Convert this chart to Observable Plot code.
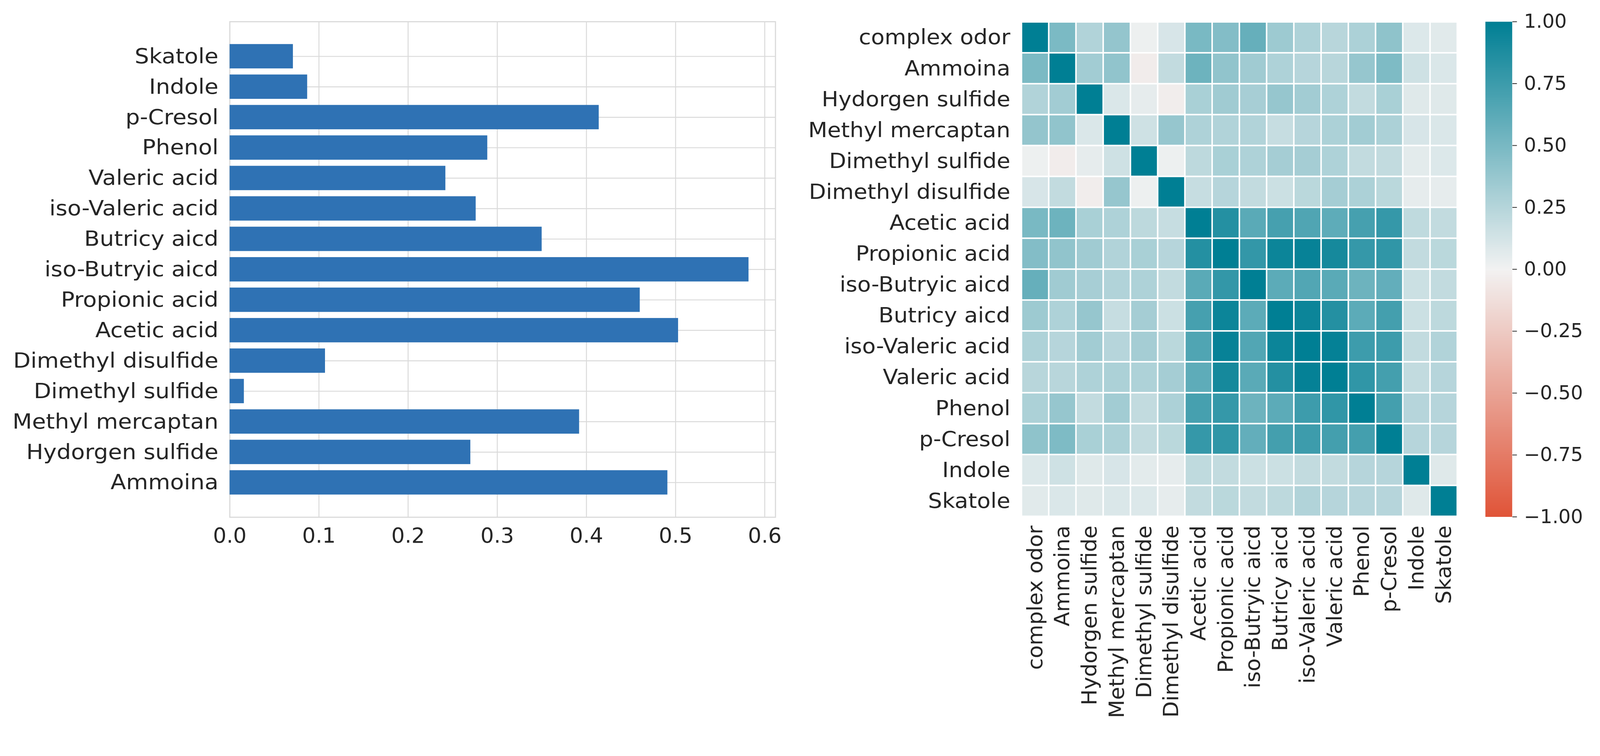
<!DOCTYPE html>
<html>
<head>
<meta charset="utf-8">
<script src="https://cdn.jsdelivr.net/npm/d3@7"></script>
<script src="https://cdn.jsdelivr.net/npm/@observablehq/plot@0.6"></script>
<style>
  html, body { margin: 0; padding: 0; background: #fff; overflow: hidden; }
  #wrap { position: absolute; left: 0; top: 0; width: 4237px; height: 1935px; background: #fff; transform-origin: 0 0; }
  #wrap svg { position: absolute; }
</style>
</head>
<body>
<div id="wrap"></div>
<script>
// ---------- Bar chart data (top to bottom) ----------
const barCategories = ["Skatole", "Indole", "p-Cresol", "Phenol", "Valeric acid", "iso-Valeric acid",
  "Butricy aicd", "iso-Butryic aicd", "Propionic acid", "Acetic acid", "Dimethyl disulfide",
  "Dimethyl sulfide", "Methyl mercaptan", "Hydorgen sulfide", "Ammoina"];
const barValues = [0.071, 0.087, 0.414, 0.289, 0.242, 0.276, 0.350, 0.582, 0.460, 0.503, 0.107, 0.016, 0.392, 0.270, 0.491];
const barTicks = [0, 0.1, 0.2, 0.3, 0.4, 0.5, 0.6];

// ---------- Heatmap data ----------
const heatVars = ["complex odor", "Ammoina", "Hydorgen sulfide", "Methyl mercaptan", "Dimethyl sulfide",
  "Dimethyl disulfide", "Acetic acid", "Propionic acid", "iso-Butryic aicd", "Butricy aicd",
  "iso-Valeric acid", "Valeric acid", "Phenol", "p-Cresol", "Indole", "Skatole"];
const corrRows = [
  [1.00, 0.49, 0.27, 0.39, 0.02, 0.11, 0.50, 0.46, 0.58, 0.35, 0.28, 0.24, 0.29, 0.41, 0.09, 0.07],
  [0.49, 1.00, 0.33, 0.40, -0.04, 0.20, 0.55, 0.40, 0.34, 0.28, 0.25, 0.24, 0.38, 0.48, 0.15, 0.10],
  [0.27, 0.33, 1.00, 0.10, 0.05, -0.03, 0.30, 0.34, 0.31, 0.38, 0.33, 0.28, 0.20, 0.30, 0.08, 0.08],
  [0.39, 0.40, 0.10, 1.00, 0.15, 0.38, 0.28, 0.27, 0.27, 0.18, 0.25, 0.29, 0.33, 0.29, 0.11, 0.10],
  [0.02, -0.04, 0.05, 0.15, 1.00, 0.02, 0.22, 0.30, 0.28, 0.32, 0.32, 0.28, 0.20, 0.20, 0.06, 0.09],
  [0.11, 0.20, -0.03, 0.38, 0.02, 1.00, 0.18, 0.25, 0.20, 0.16, 0.23, 0.32, 0.29, 0.23, 0.05, 0.05],
  [0.50, 0.55, 0.30, 0.28, 0.22, 0.18, 1.00, 0.85, 0.63, 0.71, 0.67, 0.61, 0.71, 0.78, 0.21, 0.20],
  [0.46, 0.40, 0.34, 0.27, 0.30, 0.25, 0.85, 1.00, 0.79, 0.95, 0.97, 0.91, 0.78, 0.80, 0.20, 0.23],
  [0.58, 0.34, 0.31, 0.27, 0.28, 0.20, 0.63, 0.79, 1.00, 0.62, 0.66, 0.63, 0.55, 0.59, 0.16, 0.20],
  [0.35, 0.28, 0.38, 0.18, 0.32, 0.16, 0.71, 0.95, 0.62, 1.00, 0.95, 0.85, 0.62, 0.72, 0.16, 0.22],
  [0.28, 0.25, 0.33, 0.25, 0.32, 0.23, 0.67, 0.97, 0.66, 0.95, 1.00, 0.98, 0.75, 0.75, 0.20, 0.27],
  [0.24, 0.24, 0.28, 0.29, 0.28, 0.32, 0.61, 0.91, 0.63, 0.85, 0.98, 1.00, 0.80, 0.72, 0.20, 0.25],
  [0.29, 0.38, 0.20, 0.33, 0.20, 0.29, 0.71, 0.78, 0.55, 0.62, 0.75, 0.80, 1.00, 0.72, 0.25, 0.25],
  [0.41, 0.48, 0.30, 0.29, 0.20, 0.23, 0.78, 0.80, 0.59, 0.72, 0.75, 0.72, 0.72, 1.00, 0.25, 0.25],
  [0.09, 0.15, 0.08, 0.11, 0.06, 0.05, 0.21, 0.20, 0.16, 0.16, 0.20, 0.20, 0.25, 0.25, 1.00, 0.08],
  [0.07, 0.10, 0.08, 0.10, 0.09, 0.05, 0.20, 0.23, 0.20, 0.22, 0.27, 0.25, 0.25, 0.25, 0.08, 1.00]
];
const colorbarTicks = [-1, -0.75, -0.5, -0.25, 0, 0.25, 0.5, 0.75, 1];

// ---------- shared styles ----------
const textColor = "#262626";
const gridColor = "#dadada";
const barColor = "#2f72b4";
const colorScale = {
  type: "linear",
  domain: [-1, 0, 1],
  range: ["#e05438", "#f2f2f2", "#007f94"],
  interpolate: "rgb",
  clamp: true
};
const baseStyle = {fontFamily: "'DejaVu Sans', sans-serif", fontSize: "56px", color: textColor, background: "transparent", overflow: "visible"};

const wrap = document.getElementById("wrap");
const fit = Math.min(window.innerWidth / 4237, window.innerHeight / 1935);
wrap.style.transform = `scale(${fit})`;

function place(svg, left, top) {
  svg.style.left = left + "px";
  svg.style.top = top + "px";
  svg.style.maxWidth = "none";
  wrap.appendChild(svg);
}
// widen horizontal y-axis labels slightly (the reference's labels are a little wider)
function widenYLabels(svg, k) {
  svg.querySelectorAll('g[aria-label="y-axis tick label"] text').forEach(t => {
    const tr = t.getAttribute("transform") || "";
    t.setAttribute("transform", tr + ` scale(${k},1)`);
  });
}

// ---------- Bar chart ----------
const barData = barCategories.map((name, i) => ({name, value: barValues[i]}));
const barChart = Plot.plot({
  width: 2200, height: 1935,
  marginLeft: 608, marginRight: 147, marginTop: 57, marginBottom: 566,
  style: baseStyle,
  x: {domain: [0, 0.612]},
  y: {domain: barCategories, paddingInner: 0.2, paddingOuter: 0.74, round: false},
  marks: [
    Plot.gridX(barTicks, {stroke: gridColor, strokeOpacity: 1, strokeWidth: 2.5}),
    Plot.gridY({stroke: gridColor, strokeOpacity: 1, strokeWidth: 2.5}),
    Plot.frame({stroke: gridColor, strokeWidth: 3}),
    Plot.barX(barData, {x: "value", y: "name", fill: barColor}),
    Plot.axisX(barTicks, {tickSize: 0, tickPadding: 28, tickFormat: d3.format(".1f"), label: null}),
    Plot.axisY({tickSize: 0, tickPadding: 30, label: null})
  ]
});
widenYLabels(barChart, 1.07);
place(barChart, 0, 0);

// ---------- Heatmap ----------
const cells = [];
corrRows.forEach((row, i) => row.forEach((v, j) => cells.push({row: heatVars[i], col: heatVars[j], value: v})));
const heatChart = Plot.plot({
  width: 1659, height: 1935,
  marginLeft: 505, marginRight: 0, marginTop: 58, marginBottom: 568,
  style: baseStyle,
  x: {domain: heatVars, padding: 0, round: false},
  y: {domain: heatVars, padding: 0, round: false},
  color: colorScale,
  marks: [
    Plot.cell(cells, {x: "col", y: "row", fill: "value", inset: 2}),
    Plot.axisX({tickSize: 0, tickPadding: 24, tickRotate: -90, label: null}),
    Plot.axisY({tickSize: 0, tickPadding: 30, label: null})
  ]
});
widenYLabels(heatChart, 1.05);
place(heatChart, 2200, 0);

// ---------- Colorbar ----------
const cbarChart = Plot.plot({
  width: 337, height: 1935,
  marginLeft: 33, marginRight: 233, marginTop: 57, marginBottom: 567,
  style: {...baseStyle, fontSize: "51px"},
  x: {domain: [0, 1], axis: null},
  y: {domain: [-1, 1]},
  color: colorScale,
  marks: [
    Plot.raster({x1: 0, x2: 1, y1: -1, y2: 1, width: 1, height: 512, fill: (x, y) => y, imageRendering: "auto"}),
    Plot.axisY(colorbarTicks, {anchor: "right", tickSize: 12, tickPadding: 19, strokeWidth: 2,
      tickFormat: d3.format(".2f"), label: null})
  ]
});
place(cbarChart, 3900, 0);
</script>
</body>
</html>
